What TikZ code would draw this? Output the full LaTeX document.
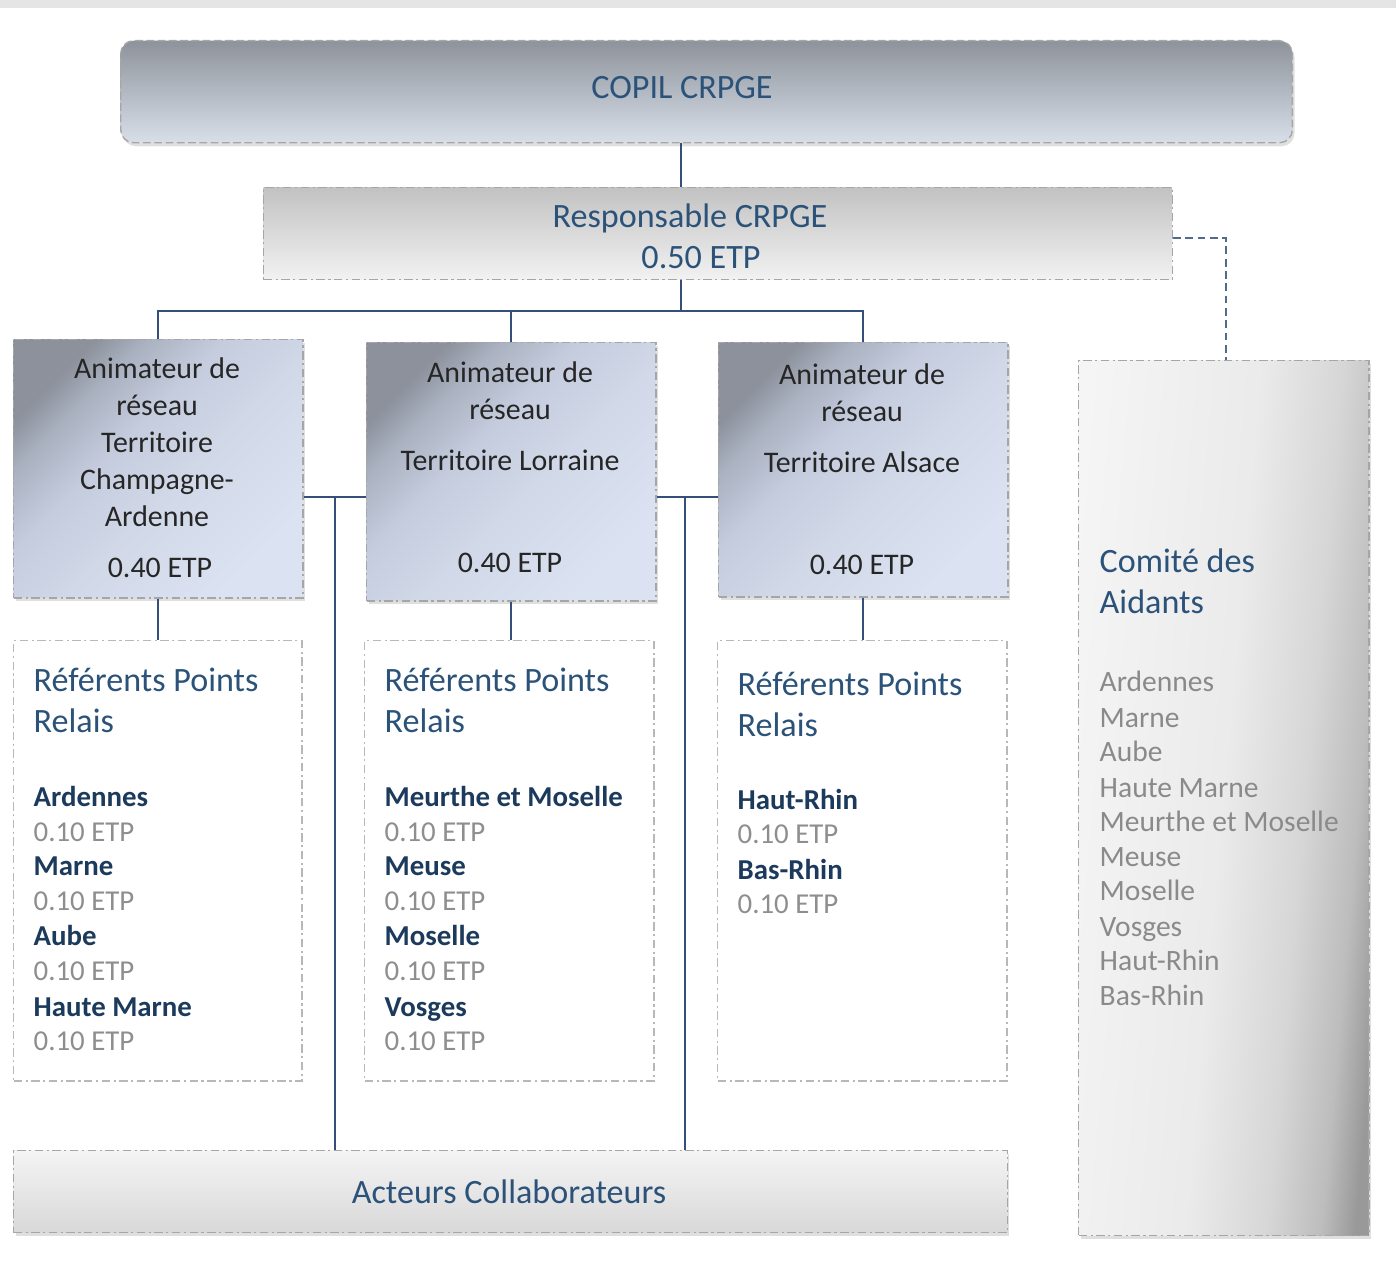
\documentclass[tikz,border=0pt]{standalone}
\usepackage{fontspec}
\setmainfont{Carlito}
\usetikzlibrary{shadows}

\definecolor{bleutitre}{HTML}{2B5279}
\definecolor{bleugras}{HTML}{1B3A5C}
\definecolor{bleulien}{HTML}{34507A}
\definecolor{grisetp}{HTML}{8E8E8E}
\definecolor{grisliste}{HTML}{8A8A8A}
\definecolor{grisbord}{HTML}{A6A6A6}
\definecolor{grishaut}{HTML}{E5E5E5}

% Dégradés
\pgfdeclareverticalshading{animshade}{100bp}{rgb(0bp)=(0.86,0.89,0.95); rgb(25bp)=(0.86,0.89,0.95);
	rgb(45bp)=(0.82,0.85,0.91); rgb(58bp)=(0.77,0.80,0.87); rgb(68bp)=(0.67,0.70,0.76); rgb(75bp)=(0.55,0.57,0.61);
	rgb(100bp)=(0.55,0.57,0.61)}
\pgfdeclarehorizontalshading{comiteshade}{100bp}{rgb(0bp)=(0.96,0.96,0.96); rgb(25bp)=(0.96,0.96,0.96);
	rgb(50bp)=(0.92,0.92,0.92); rgb(62bp)=(0.84,0.84,0.84); rgb(70bp)=(0.74,0.74,0.74); rgb(75bp)=(0.60,0.60,0.60);
	rgb(100bp)=(0.60,0.60,0.60)}

\tikzset{
	boite/.style={draw=grisbord, line width=0.4pt, inner sep=0pt, anchor=north west,
		dash pattern=on 2.4pt off 1pt on 0.6pt off 1pt},
	ombre/.style={drop shadow={shadow xshift=0.6pt, shadow yshift=-1pt, opacity=0.25}},
	copilbox/.style={boite, dash pattern=on 2.2pt off 1pt, rounded corners=0.13cm, ombre,
		top color={rgb,255:red,142;green,147;blue,155}, middle color={rgb,255:red,196;green,203;blue,212},
		bottom color={rgb,255:red,216;green,223;blue,233}},
	respbox/.style={boite, top color={rgb,255:red,194;green,194;blue,194},
		middle color={rgb,255:red,234;green,234;blue,234}, bottom color={rgb,255:red,242;green,242;blue,242}},
	animbox/.style={boite, ombre, shade, shading=animshade, shading angle=45},
	refbox/.style={boite, draw=grisbord!80, fill=white},
	acteurbox/.style={boite, ombre, top color={rgb,255:red,244;green,244;blue,244},
		bottom color={rgb,255:red,216;green,216;blue,216}},
	comitebox/.style={boite, ombre, shade, shading=comiteshade, shading angle=-5},
	lien/.style={draw=bleulien, line width=0.6pt},
	lienpointille/.style={draw=bleulien!85, line width=0.6pt, dash pattern=on 2.2pt off 1.3pt},
	titre/.style={text=bleutitre, font=\fontsize{9.7}{11}\selectfont, inner sep=0pt, anchor=mid},
	titregauche/.style={titre, anchor=mid west},
	texteanim/.style={text=black!85, font=\fontsize{8.5}{10}\selectfont, inner sep=0pt, anchor=mid},
	dept/.style={text=bleugras, font=\bfseries\fontsize{8.2}{10}\selectfont, inner sep=0pt, anchor=mid west},
	etp/.style={text=grisetp, font=\fontsize{8.2}{10}\selectfont, inner sep=0pt, anchor=mid west},
	liste/.style={text=grisliste, font=\fontsize{8.4}{10}\selectfont, inner sep=0pt, anchor=mid west}
}

\begin{document}
\begin{tikzpicture}[x=0.01cm, y=-0.01cm]
	\useasboundingbox (0,0) rectangle (1396,1270);
	\fill[grishaut] (0,0) rectangle (1396,8);
	
	%%% Boîtes
	
	% Pilotage
	\node[copilbox, minimum width=11.71cm, minimum height=1.02cm] (copil) at (120,40) {};
	\node[respbox, minimum width=9.08cm, minimum height=0.92cm] (resp) at (263,187) {};
	
	% Animateurs
	\node[animbox, minimum width=2.89cm, minimum height=2.58cm] (anim1) at (13,339) {};
	\node[animbox, minimum width=2.89cm, minimum height=2.58cm] (anim2) at (366,342) {};
	\node[animbox, minimum width=2.89cm, minimum height=2.54cm] (anim3) at (718,342) {};
	
	% Référents
	\node[refbox, minimum width=2.88cm, minimum height=4.40cm] (ref1) at (13,640) {};
	\node[refbox, minimum width=2.89cm, minimum height=4.40cm] (ref2) at (364,640) {};
	\node[refbox, minimum width=2.89cm, minimum height=4.40cm] (ref3) at (717,640) {};
	
	% Acteurs et Comité
	\node[acteurbox, minimum width=9.93cm, minimum height=0.82cm] (acteurs) at (13,1150) {};
	\node[comitebox, minimum width=2.90cm, minimum height=8.74cm] (comite) at (1078,360) {};
	
	%%% Liens
	
	\coordinate (axe) at (681,311);
	\coordinate (milieu) at (0,497);
	\coordinate (g1) at (335,497);
	\coordinate (g2) at (685,497);
	\coordinate (vers) at (1226,238);
	
	\draw[lien] (axe |- copil.south) -- (axe |- resp.north);
	\draw[lien] (axe |- resp.south) -- (axe);
	\draw[lien] (anim1.north) -- (anim1.north |- axe) -- (anim3.north |- axe) -- (anim3.north);
	\draw[lien] (anim2.north) -- (anim2.north |- axe);
	\draw[lienpointille] (resp.east |- vers) -- (vers) -- (vers |- comite.north);
	
	\draw[lien] (anim1.east |- milieu) -- (anim2.west |- milieu);
	\draw[lien] (anim2.east |- milieu) -- (anim3.west |- milieu);
	\draw[lien] (g1) -- (g1 |- acteurs.north);
	\draw[lien] (g2) -- (g2 |- acteurs.north);
	
	\draw[lien] (anim1.south) -- (anim1.south |- ref1.north);
	\draw[lien] (anim2.south) -- (anim2.south |- ref2.north);
	\draw[lien] (anim3.south) -- (anim3.south |- ref3.north);
	
	%%% Textes
	
	\node[titre] (tcopil) at (682,90) {COPIL CRPGE};
	\node[titre] (tresp1) at (690,219) {Responsable CRPGE};
	\node[titre] (tresp2) at (701,260) {0.50 ETP};
	
	% Champagne-Ardenne
	\node[texteanim] (ta11) at (157,370) {Animateur de};
	\node[texteanim] (ta12) at (157,407) {réseau};
	\node[texteanim] (ta13) at (157,444) {Territoire};
	\node[texteanim] (ta14) at (157,481) {Champagne-};
	\node[texteanim] (ta15) at (157,518) {Ardenne};
	\node[texteanim] (ta16) at (160,569) {0.40 ETP};
	
	% Lorraine
	\node[texteanim] (ta21) at (510,374) {Animateur de};
	\node[texteanim] (ta22) at (510,411) {réseau};
	\node[texteanim] (ta23) at (510,462) {Territoire Lorraine};
	\node[texteanim] (ta24) at (510,564) {0.40 ETP};
	
	% Alsace
	\node[texteanim] (ta31) at (862,376) {Animateur de};
	\node[texteanim] (ta32) at (862,413) {réseau};
	\node[texteanim] (ta33) at (862,464) {Territoire Alsace};
	\node[texteanim] (ta34) at (862,566) {0.40 ETP};
	
	% Référents Champagne-Ardenne
	\node[titregauche] (tr11) at (33,683) {Référents Points};
	\node[titregauche] (tr12) at (33,724) {Relais};
	\node[dept] (tr13) at (33,798) {Ardennes};
	\node[etp] (tr14) at (33,833) {0.10 ETP};
	\node[dept] (tr15) at (33,867) {Marne};
	\node[etp] (tr16) at (33,902) {0.10 ETP};
	\node[dept] (tr17) at (33,937) {Aube};
	\node[etp] (tr18) at (33,972) {0.10 ETP};
	\node[dept] (tr19) at (33,1008) {Haute Marne};
	\node[etp] (tr110) at (33,1042) {0.10 ETP};
	
	% Référents Lorraine
	\node[titregauche] (tr21) at (384,683) {Référents Points};
	\node[titregauche] (tr22) at (384,724) {Relais};
	\node[dept] (tr23) at (384,798) {Meurthe et Moselle};
	\node[etp] (tr24) at (384,833) {0.10 ETP};
	\node[dept] (tr25) at (384,867) {Meuse};
	\node[etp] (tr26) at (384,902) {0.10 ETP};
	\node[dept] (tr27) at (384,937) {Moselle};
	\node[etp] (tr28) at (384,972) {0.10 ETP};
	\node[dept] (tr29) at (384,1008) {Vosges};
	\node[etp] (tr210) at (384,1042) {0.10 ETP};
	
	% Référents Alsace
	\node[titregauche] (tr31) at (737,687) {Référents Points};
	\node[titregauche] (tr32) at (737,728) {Relais};
	\node[dept] (tr33) at (737,801) {Haut-Rhin};
	\node[etp] (tr34) at (737,835) {0.10 ETP};
	\node[dept] (tr35) at (737,871) {Bas-Rhin};
	\node[etp] (tr36) at (737,905) {0.10 ETP};
	
	% Comité des Aidants
	\node[titregauche] (tc1) at (1099,564) {Comité des};
	\node[titregauche] (tc2) at (1099,605) {Aidants};
	\node[liste] (tc3) at (1099,683) {Ardennes};
	\node[liste] (tc4) at (1099,719) {Marne};
	\node[liste] (tc5) at (1099,753) {Aube};
	\node[liste] (tc6) at (1099,789) {Haute Marne};
	\node[liste] (tc7) at (1099,823) {Meurthe et Moselle};
	\node[liste] (tc8) at (1099,858) {Meuse};
	\node[liste] (tc9) at (1099,892) {Moselle};
	\node[liste] (tc10) at (1099,928) {Vosges};
	\node[liste] (tc11) at (1099,962) {Haut-Rhin};
	\node[liste] (tc12) at (1099,997) {Bas-Rhin};
	
	% Acteurs
	\node[titre] (tact) at (509,1195) {Acteurs Collaborateurs};
\end{tikzpicture}
\end{document}
